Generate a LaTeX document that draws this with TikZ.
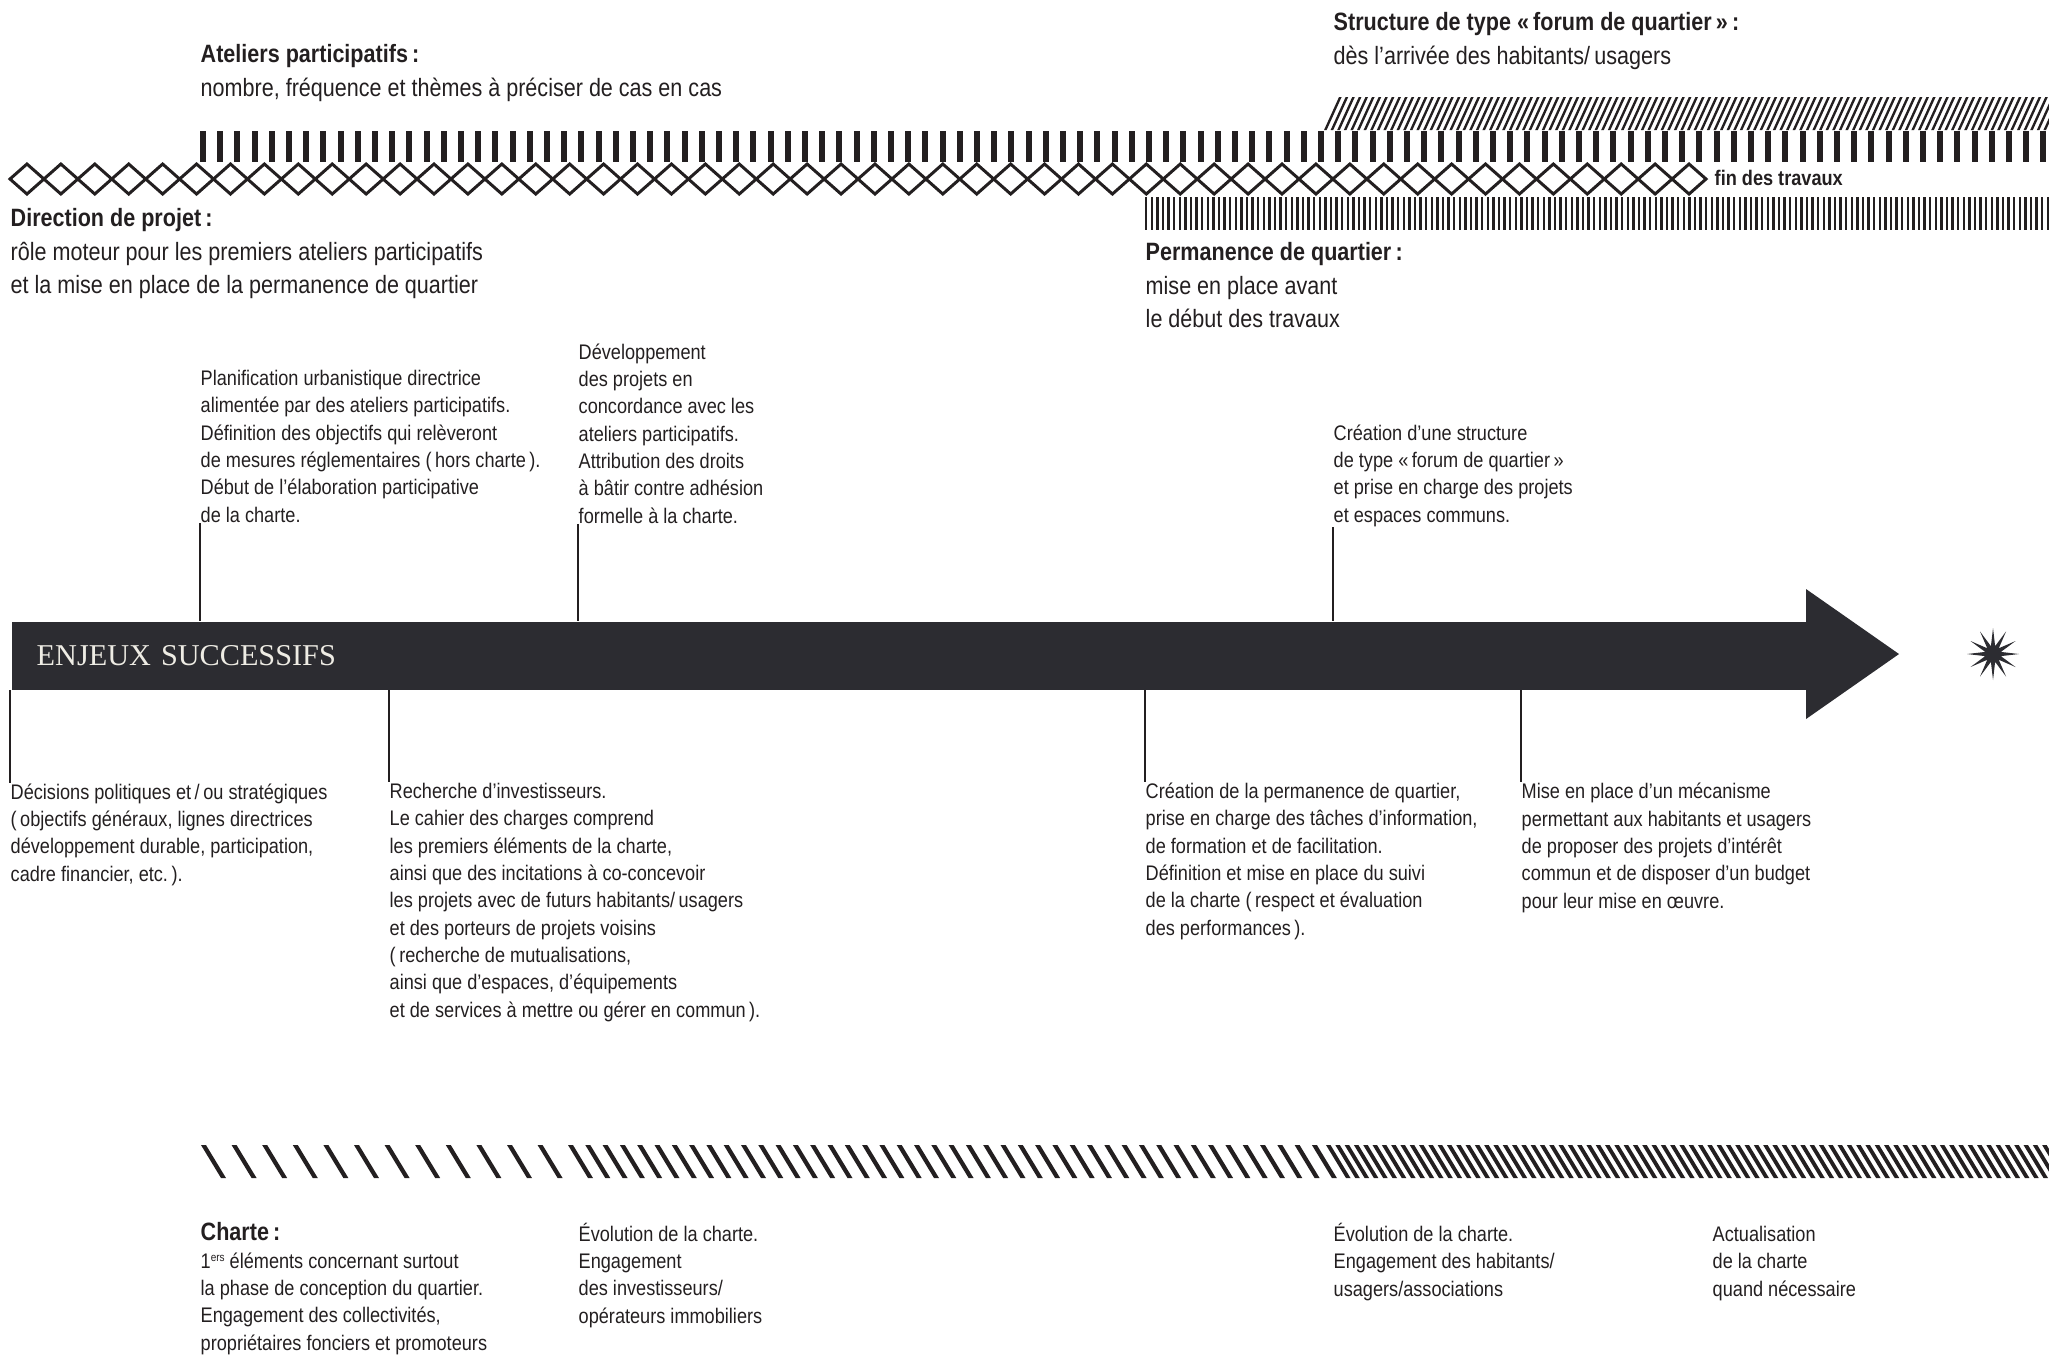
\documentclass[tikz,border=0pt]{standalone}
\usepackage{fontspec}
\setmainfont{Liberation Sans}[FakeStretch=0.86]
\newfontfamily\titrefont{Liberation Serif}
\usetikzlibrary{positioning,shapes.geometric}
\definecolor{encre}{RGB}{35,31,32}
\definecolor{fond}{RGB}{44,44,49}
\definecolor{creme}{RGB}{238,236,228}
\newcommand*\textecorps{\fontsize{6.0}{7.77}\selectfont}
\newcommand*\textetitre{\fontsize{7.13}{9.39}\selectfont}
\newcommand*\exposant[1]{\raisebox{1.9pt}{\fontsize{3.3}{4}\selectfont #1}}
% les blocs de texte sont places par la ligne de base de leur derniere ligne
\tikzstyle{texte}=[anchor=base west,inner sep=0pt,align=left,font=\textecorps,text=encre]
\tikzstyle{titre}=[texte,font=\textetitre]
\tikzstyle{lien}=[draw=encre,line width=0.45pt]
\tikzstyle{losange}=[draw=encre,line width=0.85pt,line join=miter]
\tikzstyle{bandeau}=[fill=fond,anchor=north west,minimum width=17.96cm,minimum height=0.68cm,text width=17.46cm,inner xsep=0.25cm,align=left,text=creme,font=\titrefont\fontsize{8.6}{10}\selectfont]
\tikzstyle{etoile}=[star,star points=12,star point ratio=3.2,fill=fond,inner sep=0pt,minimum size=0.52cm]

\begin{document}
\begin{tikzpicture}[x=0.01cm,y=-0.01cm]
  \useasboundingbox (0,0) rectangle (2049,1356);
  % bandes du haut
  \foreach \i in {0,...,110}
    \fill[encre] ({1324+\i*6.6},130) -- ++(2.6,0) -- ++(15,-33) -- ++(-2.6,0) -- cycle;
  \foreach \i in {0,...,107}
    \fill[encre] ({200+\i*17.2},131) rectangle ++(6,31);
  \foreach \i in {0,...,49}
    \draw[losange] ({10+\i*33.92},179) -- ++(16.96,-15) -- ++(16.96,15) -- ++(-16.96,15) -- cycle;
  \foreach \i in {0,...,161}
    \fill[encre] ({1145+\i*5.6},197) rectangle ++(2.4,33);
  % bande du bas (charte)
  \foreach \i in {0,...,11}
    \fill[encre] ({201+\i*30.6},1145) -- ++(5,0) -- ++(20,33) -- ++(-5,0) -- cycle;
  \foreach \i in {0,...,43}
    \fill[encre] ({568+\i*17.3},1145) -- ++(5,0) -- ++(20,33) -- ++(-5,0) -- cycle;
  \foreach \i in {0,...,78}
    \fill[encre] ({1326+\i*9.3},1145) -- ++(4.5,0) -- ++(20,33) -- ++(-4.5,0) -- cycle;

  % titres
  \node (ateliers) [titre] at (200,96) {\textbf{Ateliers participatifs\,:}\\nombre, fréquence et thèmes à préciser de cas en cas};
  \node (forumtitre) [titre] at (1333,64) {\textbf{Structure de type «\,forum de quartier\,»\,:}\\dès l’arrivée des habitants/\,usagers};
  \node (direction) [titre] at (10,293) {\textbf{Direction de projet\,:}\\rôle moteur pour les premiers ateliers participatifs\\et la mise en place de la permanence de quartier};
  \node (permtitre) [titre] at (1145,327) {\textbf{Permanence de quartier\,:}\\mise en place avant\\le début des travaux};
  \node (fin) [texte] at (1714,185) {\textbf{fin des travaux}};

  % fleche
  \node (axe) [bandeau] at (11,621) {ENJEUX SUCCESSIFS};
  \fill[fond] (1806,589) -- (1899,654) -- (1806,719) -- cycle;
  \node (bout) [etoile] at (1993,654) {};

  % enjeux au-dessus
  \node (plan) [texte] at (200,522) {Planification urbanistique directrice\\alimentée par des ateliers participatifs.\\Définition des objectifs qui relèveront\\de mesures réglementaires (\,hors charte\,).\\Début de l’élaboration participative\\de la charte.};
  \node (dev) [texte] at (578,523) {Développement\\des projets en\\concordance avec les\\ateliers participatifs.\\Attribution des droits\\à bâtir contre adhésion\\formelle à la charte.};
  \node (forum) [texte] at (1333,522) {Création d’une structure\\de type «\,forum de quartier\,»\\et prise en charge des projets\\et espaces communs.};

  % enjeux au-dessous
  \node (decis) [texte] at (10,881) {Décisions politiques et\,/\,ou stratégiques\\(\,objectifs généraux, lignes directrices\\développement durable, participation,\\cadre financier, etc.\,).};
  \node (invest) [texte] at (389,1017) {Recherche d’investisseurs.\\Le cahier des charges comprend\\les premiers éléments de la charte,\\ainsi que des incitations à co-concevoir\\les projets avec de futurs habitants/\,usagers\\et des porteurs de projets voisins\\(\,recherche de mutualisations,\\ainsi que d’espaces, d’équipements\\et de services à mettre ou gérer en commun\,).};
  \node (perm) [texte] at (1145,935) {Création de la permanence de quartier,\\prise en charge des tâches d’information,\\de formation et de facilitation.\\Définition et mise en place du suivi\\de la charte (\,respect et évaluation\\des performances\,).};
  \node (meca) [texte] at (1521,908) {Mise en place d’un mécanisme\\permettant aux habitants et usagers\\de proposer des projets d’intérêt\\commun et de disposer d’un budget\\pour leur mise en œuvre.};

  % charte
  \node (charte) [texte] at (200,1350) {{\textetitre\textbf{Charte\,:}}\\1\exposant{ers} éléments concernant surtout\\la phase de conception du quartier.\\Engagement des collectivités,\\propriétaires fonciers et promoteurs};
  \node (evolA) [texte] at (578,1323) {Évolution de la charte.\\Engagement\\des investisseurs/\\opérateurs immobiliers};
  \node (evolB) [texte] at (1333,1296) {Évolution de la charte.\\Engagement des habitants/\\usagers/associations};
  \node (actu) [texte] at (1712,1296) {Actualisation\\de la charte\\quand nécessaire};

  % liens
  \draw[lien] (plan.south west) -- (plan.south west |- axe.north);
  \draw[lien] (dev.south west) -- (dev.south west |- axe.north);
  \draw[lien] (forum.south west) -- (forum.south west |- axe.north);
  \draw[lien] (axe.south -| decis.north west) -- (decis.north west);
  \draw[lien] (axe.south -| invest.north west) -- (invest.north west);
  \draw[lien] (axe.south -| perm.north west) -- (perm.north west);
  \draw[lien] (axe.south -| meca.north west) -- (meca.north west);
\end{tikzpicture}
\end{document}
